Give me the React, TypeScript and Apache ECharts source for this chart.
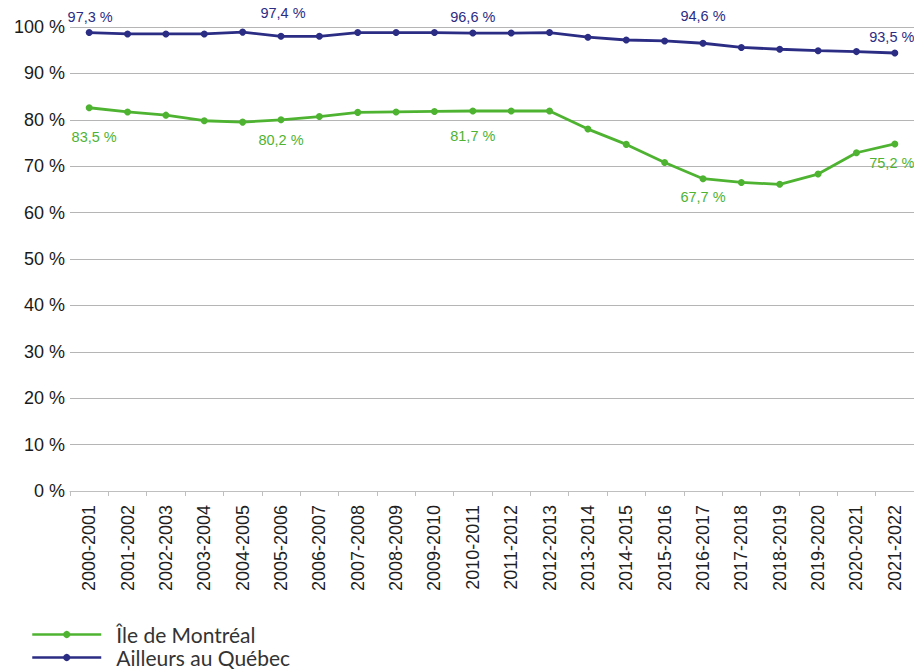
import React, { useEffect, useRef } from "react";
import * as echarts from "echarts";

const categories = [
  "2000-2001", "2001-2002", "2002-2003", "2003-2004", "2004-2005", "2005-2006",
  "2006-2007", "2007-2008", "2008-2009", "2009-2010", "2010-2011", "2011-2012",
  "2012-2013", "2013-2014", "2014-2015", "2015-2016", "2016-2017", "2017-2018",
  "2018-2019", "2019-2020", "2020-2021", "2021-2022",
];

const montrealValues = [
  82.6, 81.7, 81.0, 79.8, 79.5, 80.0, 80.7, 81.6, 81.7, 81.8, 81.9,
  81.9, 81.9, 78.0, 74.7, 70.8, 67.3, 66.5, 66.1, 68.3, 72.9, 74.8,
];

const quebecValues = [
  98.8, 98.5, 98.5, 98.5, 98.9, 98.0, 98.0, 98.8, 98.8, 98.8, 98.7,
  98.7, 98.8, 97.8, 97.2, 97.0, 96.5, 95.6, 95.2, 94.9, 94.7, 94.4,
];

// data labels (index -> text)
const montrealLabelIdx = [0, 5, 10, 16, 21];
const montrealLabelText = ["83,5 %", "80,2 %", "81,7 %", "67,7 %", "75,2 %"];
const montrealLabelOffset = [[5, 13], [0, 4], [0, 9], [0, 2], [-3, 3]];

const quebecLabelIdx = [0, 5, 10, 16, 21];
const quebecLabelText = ["97,3 %", "97,4 %", "96,6 %", "94,6 %", "93,5 %"];
const quebecLabelOffset = [[1, 0], [2, -7], [0, 0], [0, -11], [-3, 0]];

const GREEN = "#4fb332";
const NAVY = "#2b2c84";

function buildData(values: number[], idx: number[], texts: string[], offs: number[][], pos: string, color: string) {
  return values.map((v, i) => {
    const k = idx.indexOf(i);
    if (k < 0) return v;
    return {
      value: v,
      label: {
        show: true,
        position: pos,
        distance: 5,
        offset: offs[k],
        formatter: texts[k],
        color,
        fontFamily: "Liberation Sans",
        fontSize: 14.5,
      },
    };
  });
}

export default function App() {
  const ref = useRef<HTMLDivElement>(null);
  useEffect(() => {
    if (!ref.current) return;
    const chart = echarts.init(ref.current, undefined, { renderer: "svg" });
    chart.setOption({
      animation: false,
      backgroundColor: "#ffffff",
      grid: { left: 70, right: 0, top: 27, bottom: 178, containLabel: false },
      legend: {
        orient: "vertical",
        left: 31,
        top: 624,
        height: 45,
        padding: 0,
        itemWidth: 69,
        itemHeight: 9,
        itemGap: 2,
        lineStyle: { width: 2.5 },
        textStyle: {
          fontFamily: "Lato",
          fontSize: 21,
          color: "#333333",
          lineHeight: 21,
          padding: [0, 0, 0, 10],
        },
        data: ["Île de Montréal", "Ailleurs au Québec"],
      },
      xAxis: {
        type: "category",
        data: categories,
        boundaryGap: true,
        axisLine: { show: true, lineStyle: { color: "#bfbfbf", width: 1 } },
        axisTick: { show: true, alignWithLabel: false, length: 5, lineStyle: { color: "#bfbfbf" } },
        axisLabel: {
          rotate: 90,
          interval: 0,
          margin: 14,
          fontFamily: "Liberation Sans",
          fontSize: 18,
          color: "#1f1f1f",
        },
      },
      yAxis: {
        type: "value",
        min: 0,
        max: 100,
        interval: 10,
        axisLine: { show: false },
        axisTick: { show: false },
        axisLabel: {
          formatter: "{value} %",
          margin: 5,
          fontFamily: "Liberation Sans",
          fontSize: 18,
          color: "#1a1a1a",
        },
        splitLine: { show: true, lineStyle: { color: "#b5b5b5", width: 1 } },
      },
      series: [
        {
          name: "Île de Montréal",
          type: "line",
          data: buildData(montrealValues, montrealLabelIdx, montrealLabelText, montrealLabelOffset, "bottom", GREEN),
          color: GREEN,
          lineStyle: { width: 2.8, color: GREEN },
          itemStyle: { color: GREEN },
          symbol: "circle",
          symbolSize: 7,
          z: 3,
        },
        {
          name: "Ailleurs au Québec",
          type: "line",
          data: buildData(quebecValues, quebecLabelIdx, quebecLabelText, quebecLabelOffset, "top", NAVY),
          color: NAVY,
          lineStyle: { width: 2.8, color: NAVY },
          itemStyle: { color: NAVY },
          symbol: "circle",
          symbolSize: 7,
          z: 3,
        },
      ],
    });
    return () => chart.dispose();
  }, []);
  return (
    <div
      ref={ref}
      style={{ position: "absolute", left: 0, top: 0, width: 914, height: 669 }}
    />
  );
}
